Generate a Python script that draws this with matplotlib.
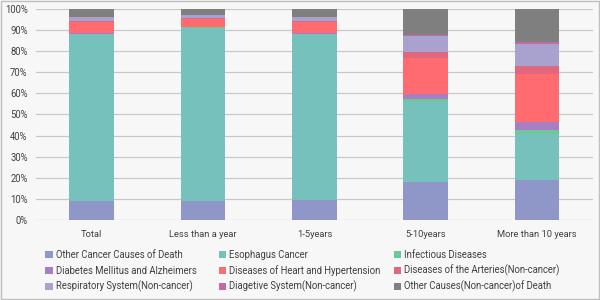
import numpy as np
import matplotlib
matplotlib.use("Agg")
import matplotlib.pyplot as plt
from matplotlib.patches import Rectangle

plt.rcParams['font.family'] = ['Roboto', 'DejaVu Sans']

categories = ["Total", "Less than a year", "1-5years", "5-10years", "More than 10 years"]

series_names = [
    "Other Cancer Causes of Death",
    "Esophagus Cancer",
    "Infectious Diseases",
    "Diabetes Mellitus and Alzheimers",
    "Diseases of Heart and Hypertension",
    "Diseases of the Arteries(Non-cancer)",
    "Respiratory System(Non-cancer)",
    "Diagetive System(Non-cancer)",
    "Other Causes(Non-cancer)of Death",
]

# percentages per category
other_cancer = [8.8, 8.8, 9.6, 17.8, 19.1]
esophagus = [79.2, 82.2, 78.4, 38.0, 21.7]
infectious = [0.3, 0.3, 0.3, 1.6, 1.9]
diabetes = [0.3, 0.2, 0.3, 2.2, 3.8]
heart = [5.1, 3.8, 5.1, 17.4, 22.5]
arteries = [0.5, 0.4, 0.5, 2.8, 4.0]
respiratory = [1.8, 1.3, 1.8, 7.4, 10.5]
digestive = [0.4, 0.3, 0.4, 0.3, 0.7]
other_causes = [3.6, 2.7, 3.6, 12.5, 15.8]

values = [other_cancer, esophagus, infectious, diabetes, heart,
          arteries, respiratory, digestive, other_causes]
colors = ["#8f97c8", "#77c1bd", "#6fc59c", "#a77ec2", "#ff6b6e",
          "#e0677d", "#a9a1ce", "#c66aa5", "#7f7f7f"]

fig = plt.figure(figsize=(6, 3), dpi=100)
fig.patch.set_facecolor("#f7f7f7")
renderer = fig.canvas.get_renderer()


def fit_size(text, target_px, base=7.0):
    # font size that makes `text` about target_px wide
    t = fig.text(0, 0, text, fontsize=base)
    w = t.get_window_extent(renderer).width
    t.remove()
    return base * target_px / w


xtick_size = fit_size("Less than a year", 68)
ytick_size = fit_size("100%", 23)
leg_size = fit_size("Diseases of Heart and Hypertension", 153)

ax = fig.add_axes([0.06, 0.267, 0.928, 0.703])
ax.set_facecolor("#f7f7f7")

x = np.arange(len(categories))
bottom = np.zeros(len(categories))
for name, vals, c in zip(series_names, values, colors):
    ax.bar(x, vals, width=0.4, bottom=bottom, color=c, label=name, zorder=3)
    bottom += np.array(vals)

ax.set_ylim(0, 100)
ax.set_xlim(-0.5, len(categories) - 0.5)
ax.set_yticks(np.arange(0, 101, 10))
ax.set_yticklabels([f"{v}%" for v in range(0, 101, 10)])
ax.set_xticks(x)
ax.set_xticklabels(categories)
ax.tick_params(axis='both', length=0, colors="#404040")
ax.tick_params(axis='x', pad=7, labelsize=xtick_size)
ax.tick_params(axis='y', pad=6, labelsize=ytick_size)
ax.grid(axis='y', color="#c8c8c8", linewidth=0.9, zorder=0)
for s in ax.spines.values():
    s.set_visible(False)

# legend: 3 columns filled row by row
col_x = [45, 218.5, 393.5]
row_y = [254.5, 270.5, 286.5]
for i, (name, c) in enumerate(zip(series_names, colors)):
    cx = col_x[i % 3] / 600
    cy = 1 - row_y[i // 3] / 300
    fig.add_artist(Rectangle((cx, cy - 3.7 / 300), 7.5 / 600, 7.5 / 300,
                             transform=fig.transFigure, facecolor=c, edgecolor="none"))
    fig.text(cx + 10.5 / 600, cy, name, fontsize=leg_size, color="#404040",
             ha="left", va="center")

border = Rectangle((0.002, 0.003), 0.996, 0.994, transform=fig.transFigure,
                   fill=False, edgecolor="#bfbfbf", linewidth=1)
fig.add_artist(border)

fig.savefig("out.png", dpi=100, facecolor=fig.get_facecolor())
